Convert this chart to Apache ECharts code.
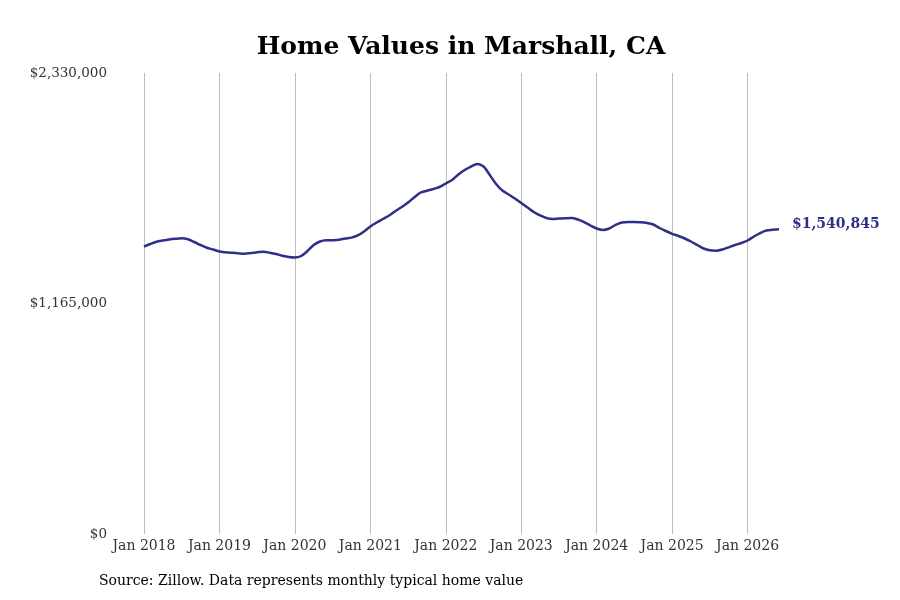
<!DOCTYPE html>
<html>
<head>
<meta charset="utf-8">
<script src="https://cdn.jsdelivr.net/npm/echarts@6/dist/echarts.min.js"></script>
<style>html,body{margin:0;padding:0;background:#fff;}#c{width:900px;height:600px;}</style>
</head>
<body>
<div id="c"></div>
<script>
const monthNames = ['Jan','Feb','Mar','Apr','May','Jun','Jul','Aug','Sep','Oct','Nov','Dec'];
const startYear = 2018;
const values = [
  1452000,1465700,1477300,1483400,1488500,1492000,1494500,1489500,1475800,1460700,1447000,1437900,
  1427800,1423800,1421200,1418700,1416700,1420200,1423800,1426800,1421800,1415200,1406600,1400000,
  1397500,1405100,1430300,1460700,1478400,1484400,1484900,1486900,1493500,1498100,1508700,1528900,
  1554200,1574400,1592100,1609800,1632500,1652700,1675500,1701800,1726000,1735100,1743700,1753800,
  1771500,1789200,1817000,1839700,1857400,1870100,1857400,1814500,1769000,1736100,1715900,1695700,
  1672900,1650200,1627500,1609800,1597100,1592100,1594600,1596100,1597100,1589600,1576900,1559200,
  1544100,1536500,1544100,1561800,1574400,1576900,1576900,1575400,1571900,1564300,1546600,1531400,
  1517300,1506200,1493500,1478400,1460700,1443000,1433900,1431900,1437900,1449000,1460700,1470800,
  1483400,1503600,1521300,1534000,1537500,1540845
];
const categories = values.map((v, i) => {
  const y = startYear + Math.floor(i / 12);
  return monthNames[i % 12] + ' ' + y;
});
const yTicks = [0, 1165000, 2330000];
const titleText = 'Home Values in Marshall, CA';
const sourceText = 'Source: Zillow. Data represents monthly typical home value';

const fmt = v => '$' + v.toLocaleString('en-US');
const font = 'DejaVu Serif';
const lineColor = '#2e2f88';

const chart = echarts.init(document.getElementById('c'));
chart.setOption({
  backgroundColor: '#fff',
  animation: false,
  title: {
    text: titleText,
    left: 456,
    textAlign: 'center',
    top: 30,
    textStyle: { fontFamily: font, fontSize: 25, fontWeight: 'bold', color: '#000' }
  },
  grid: { left: 144, right: 121, top: 73, bottom: 66, containLabel: false },
  xAxis: {
    type: 'category',
    data: categories,
    boundaryGap: false,
    axisLine: { show: false },
    axisTick: { show: false },
    axisLabel: {
      interval: (i) => i % 12 === 0,
      formatter: (v) => v,
      fontFamily: font, fontSize: 14, color: '#333', margin: 5
    },
    splitLine: {
      show: true,
      interval: (i) => i % 12 === 0,
      lineStyle: { color: '#bdbdbd', width: 1 }
    }
  },
  yAxis: {
    type: 'value',
    min: yTicks[0],
    max: yTicks[yTicks.length - 1],
    interval: yTicks[1] - yTicks[0],
    axisLine: { show: false },
    axisTick: { show: false },
    splitLine: { show: false },
    axisLabel: {
      formatter: fmt,
      fontFamily: font, fontSize: 13.5, color: '#333', margin: 37,
      padding: [2, 0, 0, 0]
    }
  },
  series: [{
    type: 'line',
    data: values,
    smooth: 0.3,
    symbol: 'none',
    lineStyle: { color: lineColor, width: 2.5 },
    endLabel: {
      show: true,
      formatter: (p) => fmt(p.value),
      color: lineColor,
      fontFamily: font,
      fontSize: 14,
      fontWeight: 'bold',
      distance: 13,
      offset: [0, -5]
    }
  }],
  graphic: [{
    type: 'text',
    left: 99,
    top: 574,
    style: { text: sourceText, fontFamily: font, fontSize: 14, fill: '#000' }
  }]
});
</script>
</body>
</html>
